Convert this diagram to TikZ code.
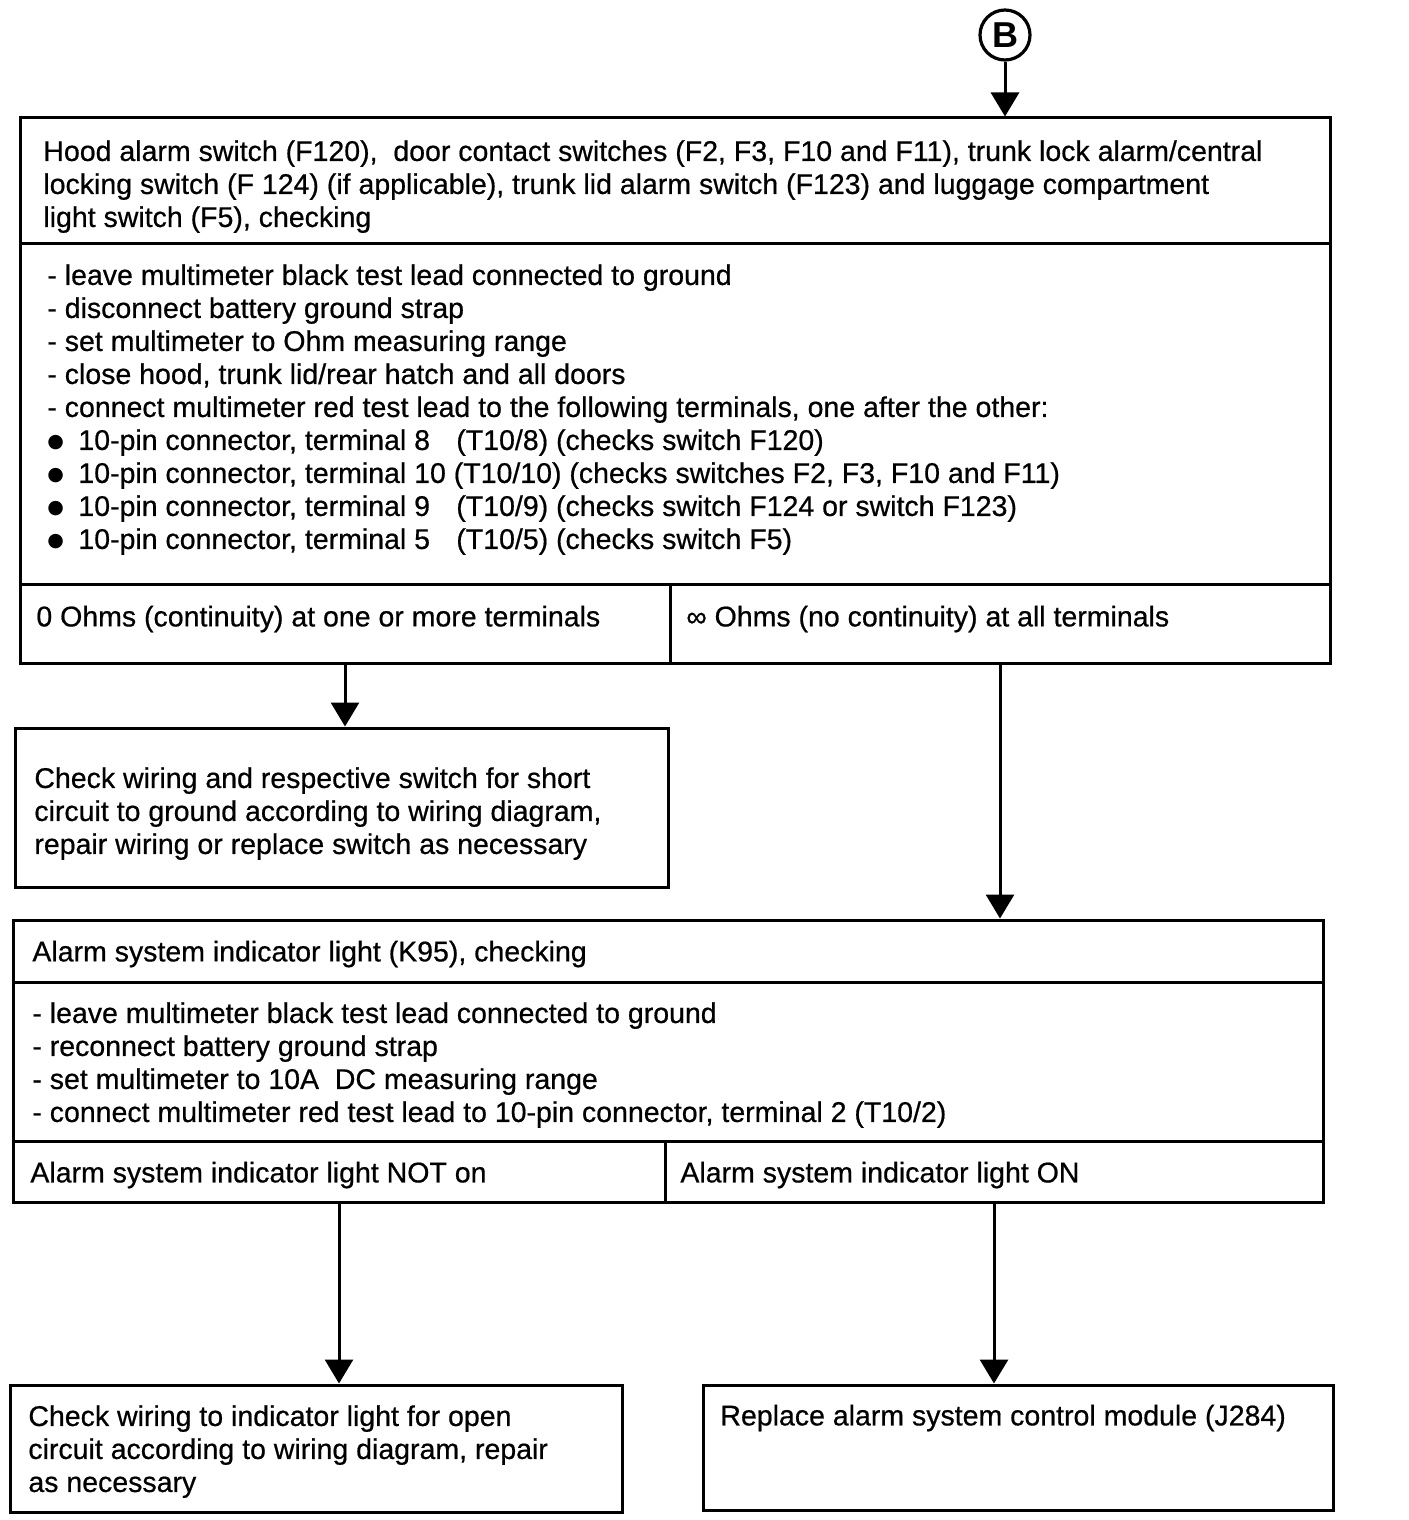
\documentclass[tikz,border=0pt]{standalone}
\usepackage{fontspec}
\setmainfont{Liberation Sans}[BoldFont=Liberation Sans, BoldFeatures={FakeBold=0.6}]
\newfontfamily\markfont{Liberation Sans Bold}
\newfontfamily\dotfont{DejaVu Sans}
\newcommand{\bigdot}{\makebox[15.5pt][l]{\raisebox{1.2pt}{\fontsize{9.5}{9.5}\selectfont\dotfont ●}}}
\usetikzlibrary{arrows.meta,fit}
\begin{document}
\begin{tikzpicture}[x=0.5pt,y=-0.5pt,
  cell/.style={draw, line width=1.5pt, inner sep=0pt},
  txt/.style={anchor=north west, inner sep=0pt, align=left, font=\fontsize{14.25}{16.5}\selectfont\bfseries, execute at begin node={\strut}},
  arr/.style={line width=1.5pt, -{Triangle[width=14pt,length=12pt]}}]
\useasboundingbox (0,0) rectangle (1408,1520);
% start marker
\node[circle, draw, line width=1.6pt, minimum size=25pt, inner sep=0pt, font=\fontsize{18}{18}\selectfont\markfont] (B) at (1005,35) {B};
% box 1
\node[cell, fit={(20,118) (1330,243)}] (h1) {};
\node[cell, fit={(20,243) (1330,584)}] (d1) {};
\node[cell, fit={(20,584) (670,663)}] (r1a) {};
\node[cell, fit={(670,584) (1330,663)}] (r1b) {};
\node[txt] (th1) at (43,139.9) {Hood alarm switch (F120),\ \ door contact switches (F2, F3, F10 and F11), trunk lock alarm/central\\locking switch (F 124) (if applicable), trunk lid alarm switch (F123) and luggage compartment\\light switch (F5), checking};
\node[txt] (td1) at (47,263.9) {- leave multimeter black test lead connected to ground\\
- disconnect battery ground strap\\
- set multimeter to Ohm measuring range\\
- close hood, trunk lid/rear hatch and all doors\\
- connect multimeter red test lead to the following terminals, one after the other:\\
\bigdot\makebox[189pt][l]{10-pin connector, terminal 8}(T10/8) (checks switch F120)\\
\bigdot 10-pin connector, terminal 10 (T10/10) (checks switches F2, F3, F10 and F11)\\
\bigdot\makebox[189pt][l]{10-pin connector, terminal 9}(T10/9) (checks switch F124 or switch F123)\\
\bigdot\makebox[189pt][l]{10-pin connector, terminal 5}(T10/5) (checks switch F5)};
\node[txt] (tr1a) at (36,602.9) {0 Ohms (continuity) at one or more terminals};
\node[txt] (tr1b) at (686,602.9) {∞ Ohms (no continuity) at all terminals};
% box 2
\node[cell, fit={(15,728) (668,887)}] (b2) {};
\node[txt] (tb2) at (34,766.9) {Check wiring and respective switch for short\\circuit to ground according to wiring diagram,\\repair wiring or replace switch as necessary};
% box 3
\node[cell, fit={(13,920) (1323,982)}] (h3) {};
\node[cell, fit={(13,982) (1323,1141)}] (d3) {};
\node[cell, fit={(13,1141) (665,1202)}] (r3a) {};
\node[cell, fit={(665,1141) (1323,1202)}] (r3b) {};
\node[txt] (th3) at (32,937.9) {Alarm system indicator light (K95), checking};
\node[txt] (td3) at (32,1001.9) {- leave multimeter black test lead connected to ground\\
- reconnect battery ground strap\\
- set multimeter to 10A\ \ DC measuring range\\
- connect multimeter red test lead to 10-pin connector, terminal 2 (T10/2)};
\node[txt] (tr3a) at (30,1158.9) {Alarm system indicator light NOT on};
\node[txt] (tr3b) at (680,1158.9) {Alarm system indicator light ON};
% box 4 and 5
\node[cell, fit={(10,1385) (622,1512)}] (b4) {};
\node[txt] (tb4) at (28,1404.9) {Check wiring to indicator light for open\\circuit according to wiring diagram, repair\\as necessary};
\node[cell, fit={(703,1385) (1333,1510)}] (b5) {};
\node[txt] (tb5) at (720,1401.9) {Replace alarm system control module (J284)};
% connectors
\draw[arr] (B.south) -- (B.south |- h1.north);
\draw[arr] (r1a.south) -- (r1a.south |- b2.north);
\draw[arr] (r1b.south) -- (r1b.south |- h3.north);
\draw[arr] (r3a.south) -- (r3a.south |- b4.north);
\draw[arr] (r3b.south) -- (r3b.south |- b5.north);
\end{tikzpicture}
\end{document}
